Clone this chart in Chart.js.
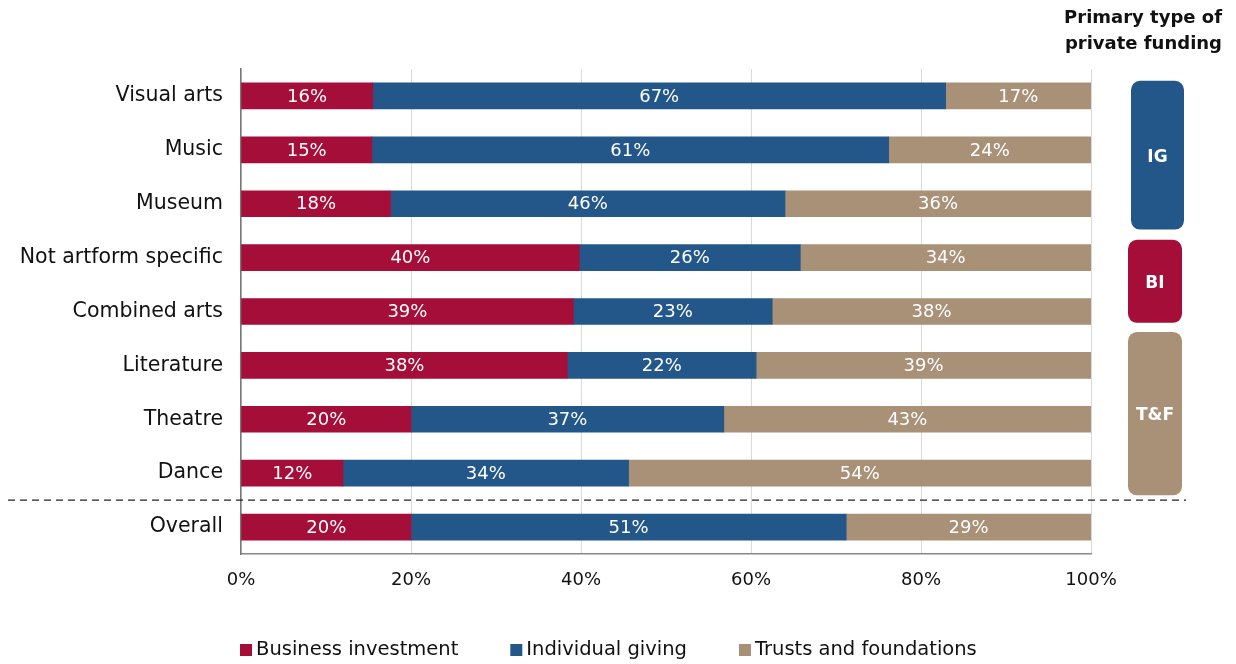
<!DOCTYPE html>
<html><head><meta charset="utf-8">
<script src="https://cdn.jsdelivr.net/npm/chart.js@4/dist/chart.umd.min.js"></script>
<style>html,body{margin:0;padding:0;background:#fff}#wrap{width:1236px;height:664px;position:relative}</style>
</head><body><div id="wrap"><canvas id="c" width="1236" height="664"></canvas></div>
<script>
const categories = ["Visual arts","Music","Museum","Not artform specific","Combined arts","Literature","Theatre","Dance","Overall"];
const businessInvestment = [15.5,15.4,17.6,39.8,39.1,38.4,20.0,12.0,20.0];
const individualGiving   = [67.4,60.8,46.4,26.0,23.4,22.2,36.8,33.6,51.2];
const trustsFoundations  = [17.1,23.8,36.0,34.2,37.5,39.4,43.2,54.4,28.8];
const xTicks = [0,20,40,60,80,100];
const seriesNames = ["Business investment","Individual giving","Trusts and foundations"];
const primaryGroups = [
  {label:"IG",  from:0, to:2, color:"#235789"},
  {label:"BI",  from:3, to:4, color:"#A50E38"},
  {label:"T&F", from:5, to:7, color:"#A89177"}
];
const FONT = "'DejaVu Sans', sans-serif";
const colors = ["#A50E38","#235789","#A89177"];

const labelPlugin = {
  id:'segLabels',
  afterDatasetsDraw(chart){
    const ctx = chart.ctx;
    ctx.save();
    ctx.fillStyle = '#fff';
    ctx.font = "18px " + FONT;
    ctx.textAlign = 'center';
    ctx.textBaseline = 'middle';
    chart.data.datasets.forEach((ds,di)=>{
      const meta = chart.getDatasetMeta(di);
      meta.data.forEach((el,i)=>{
        const v = ds.data[i];
        const cx = (el.x + el.base)/2;
        ctx.fillText(Math.round(v)+'%', cx, el.y+1);
      });
    });
    ctx.restore();
  }
};

const extrasPlugin = {
  id:'extras',
  afterDraw(chart){
    const ctx = chart.ctx;
    const y = chart.scales.y;
    const step = y.getPixelForValue(1) - y.getPixelForValue(0);
    ctx.save();
    // dashed separator between Dance and Overall
    const sepY = (y.getPixelForValue(7) + y.getPixelForValue(8))/2;
    ctx.strokeStyle = '#222';
    ctx.lineWidth = 1.3;
    ctx.setLineDash([7,5]);
    ctx.beginPath(); ctx.moveTo(8, sepY); ctx.lineTo(1186, sepY); ctx.stroke();
    ctx.setLineDash([]);
    // title
    ctx.fillStyle = '#111';
    ctx.font = "bold 18px " + FONT;
    ctx.textAlign = 'right';
    ctx.textBaseline = 'middle';
    ctx.fillText('Primary type of', 1222, 18);
    ctx.fillText('private funding', 1222, 44);
    // group boxes
    primaryGroups.forEach((g,k)=>{
      let t, b;
      if(k===0){ t = y.getPixelForValue(g.from) - step*0.28; b = y.getPixelForValue(g.to) + step*0.48; }
      else if(k===1){ t = y.getPixelForValue(g.from) - step*0.33; b = y.getPixelForValue(g.to) + step*0.21; }
      else { t = y.getPixelForValue(g.from) - step*0.62; b = y.getPixelForValue(g.to) + step*0.41; }
      const x0 = k===0 ? 1131 : 1128, w = k===0 ? 53 : 54;
      ctx.fillStyle = g.color;
      ctx.beginPath();
      ctx.roundRect(x0, t, w, b-t, 9);
      ctx.fill();
      ctx.fillStyle = '#fff';
      ctx.font = "bold 17px " + FONT;
      ctx.textAlign = 'center';
      ctx.fillText(g.label, x0 + w/2, (t+b)/2 + 2);
    });
    // legend
    ctx.font = "19.5px " + FONT;
    ctx.textAlign = 'left';
    let lx = 240;
    const ly = 650;
    chart.data.datasets.forEach((ds)=>{
      ctx.fillStyle = ds.backgroundColor;
      ctx.fillRect(lx, ly-6, 12, 12);
      ctx.fillStyle = '#111';
      ctx.fillText(ds.label, lx+16, ly);
      lx += 16 + ctx.measureText(ds.label).width + 52;
    });
    ctx.restore();
  }
};

new Chart(document.getElementById('c'), {
  type:'bar',
  data:{
    labels: categories,
    datasets:[
      {label:seriesNames[0], data:businessInvestment, backgroundColor:colors[0]},
      {label:seriesNames[1], data:individualGiving, backgroundColor:colors[1]},
      {label:seriesNames[2], data:trustsFoundations, backgroundColor:colors[2]}
    ]
  },
  options:{
    indexAxis:'y',
    responsive:false,
    animation:false,
    devicePixelRatio:1,
    layout:{padding:{left:0,right:145,top:69,bottom:56}},
    datasets:{bar:{barThickness:26, borderWidth:0}},
    scales:{
      x:{
        stacked:true, min:0, max:100,
        afterBuildTicks(s){ s.ticks = xTicks.map(v=>({value:v})); },
        ticks:{callback:v=>v+'%', color:'#111', font:{family:FONT,size:18}, padding:16},
        grid:{color:'#d9d9d9', drawTicks:false},
        border:{color:'#888', width:1.5},
        afterFit(s){ s.height = 54; }
      },
      y:{
        stacked:true,
        ticks:{color:'#111', font:{family:FONT,size:20.5}, padding:18},
        grid:{display:false, drawTicks:false},
        border:{color:'#777', width:1.5},
        afterFit(s){ s.width = 241; }
      }
    },
    plugins:{
      legend:{display:false},
      tooltip:{enabled:false}
    }
  },
  plugins:[labelPlugin, extrasPlugin]
});
</script></body></html>
